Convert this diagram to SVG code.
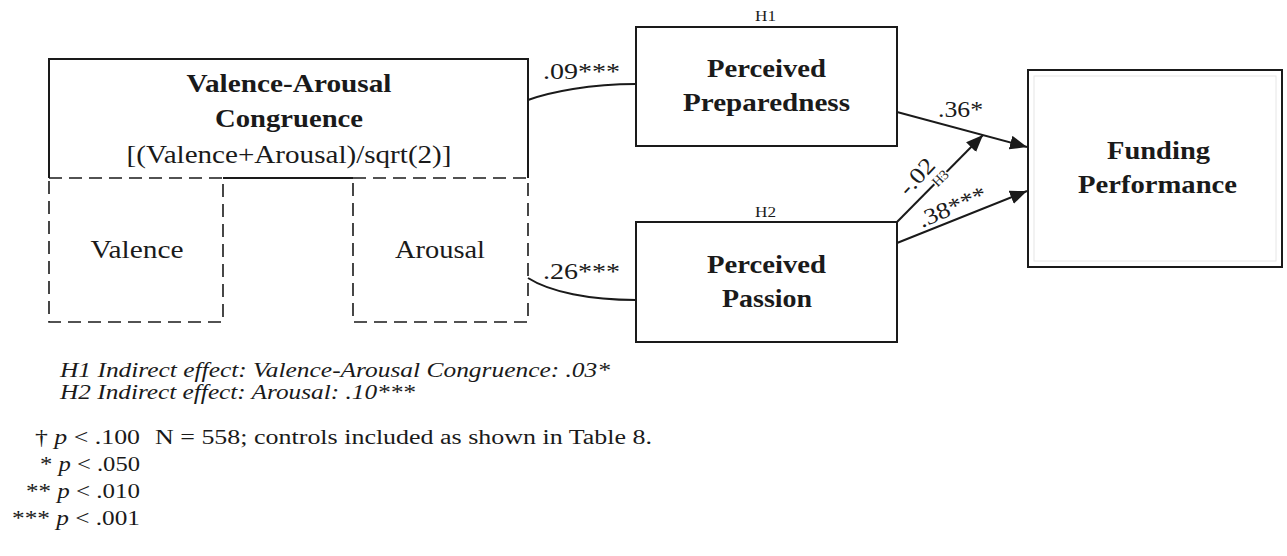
<svg xmlns="http://www.w3.org/2000/svg" width="1287" height="556" viewBox="0 0 1287 556">
<defs>
<style>
.bx{fill:none;stroke:#1a1a1a;stroke-width:2}
.ds{fill:none;stroke:#1a1a1a;stroke-width:1.6;stroke-dasharray:13 7}
.ln{fill:none;stroke:#1a1a1a;stroke-width:2}
text{font-family:"Liberation Serif","Times New Roman",serif;fill:#1a1a1a}
.b{font-size:26px;font-weight:bold}
.r{font-size:25px}
.c{font-size:23px}
.h{font-size:14px}
.it{font-size:21px;font-style:italic}
.n{font-size:20px}
.halo{paint-order:stroke;stroke:#fff;stroke-width:3px}
</style>
<marker id="ah" markerUnits="userSpaceOnUse" markerWidth="18" markerHeight="14" refX="17" refY="7" orient="auto">
<path d="M0,0 L17,7 L0,14 Z" fill="#1a1a1a"/>
</marker>
</defs>
<rect width="1287" height="556" fill="#fff"/>

<g id="congruence">
<path class="bx" d="M49,178 V59 H528 V178"/>
<line class="bx" x1="223" y1="178" x2="353" y2="178"/>
<text class="b" x="186.5" y="92" textLength="205" lengthAdjust="spacingAndGlyphs">Valence-Arousal</text>
<text class="b" x="215" y="127" textLength="148" lengthAdjust="spacingAndGlyphs">Congruence</text>
<text class="r" x="126.5" y="163" textLength="325" lengthAdjust="spacingAndGlyphs">[(Valence+Arousal)/sqrt(2)]</text>
</g>
<g id="valence">
<rect class="ds" x="49" y="178" width="174" height="144"/>
<text class="r" x="90.5" y="258" textLength="93" lengthAdjust="spacingAndGlyphs">Valence</text>
</g>
<g id="arousal">
<rect class="ds" x="353" y="178" width="175" height="144"/>
<text class="r" x="395" y="258" textLength="90" lengthAdjust="spacingAndGlyphs">Arousal</text>
</g>

<g id="preparedness">
<rect class="bx" x="636" y="27" width="261" height="119"/>
<text class="h" x="755" y="21" textLength="21" lengthAdjust="spacingAndGlyphs">H1</text>
<text class="b" x="707" y="77" textLength="119" lengthAdjust="spacingAndGlyphs">Perceived</text>
<text class="b" x="683" y="111" textLength="167" lengthAdjust="spacingAndGlyphs">Preparedness</text>
</g>
<g id="passion">
<rect class="bx" x="636" y="222" width="261" height="120"/>
<text class="h" x="755" y="217" textLength="21" lengthAdjust="spacingAndGlyphs">H2</text>
<text class="b" x="707" y="273" textLength="119" lengthAdjust="spacingAndGlyphs">Perceived</text>
<text class="b" x="722" y="307" textLength="90" lengthAdjust="spacingAndGlyphs">Passion</text>
</g>
<g id="funding">
<rect class="bx" x="1028" y="70" width="254" height="197"/>
<rect x="1034" y="76" width="242" height="185" fill="none" stroke="#e6e6e6" stroke-width="1"/>
<text class="b" x="1107" y="159" textLength="103" lengthAdjust="spacingAndGlyphs">Funding</text>
<text class="b" x="1078" y="193" textLength="159" lengthAdjust="spacingAndGlyphs">Performance</text>
</g>

<g id="connectors">
<path class="ln" d="M528,100 C550,92 590,84 636,84"/>
<path class="ln" d="M528,278 C550,292 590,300 636,300"/>
<line class="ln" x1="897" y1="112" x2="1027" y2="147" marker-end="url(#ah)"/>
<line class="ln" x1="897" y1="222" x2="983" y2="135" marker-end="url(#ah)"/>
<line class="ln" x1="897" y1="243" x2="1027" y2="191" marker-end="url(#ah)"/>
<text class="c" x="543" y="79" textLength="77" lengthAdjust="spacingAndGlyphs">.09***</text>
<text class="c" x="543" y="279" textLength="77" lengthAdjust="spacingAndGlyphs">.26***</text>
<text class="c" x="938" y="117" textLength="45" lengthAdjust="spacingAndGlyphs">.36*</text>
<text class="c" transform="translate(908,197) rotate(-47)" x="0" y="0" textLength="42" lengthAdjust="spacingAndGlyphs">-.02</text>
<text class="h halo" transform="translate(940,178) rotate(-45)" x="0" y="5" text-anchor="middle">H3</text>
<text class="c" transform="translate(922,228) rotate(-23)" x="0" y="0" textLength="72" lengthAdjust="spacingAndGlyphs">.38***</text>
</g>

<g id="notes">
<text class="it" x="60" y="377" textLength="550" lengthAdjust="spacingAndGlyphs">H1 Indirect effect: Valence-Arousal Congruence: .03*</text>
<text class="it" x="60" y="399" textLength="355" lengthAdjust="spacingAndGlyphs">H2 Indirect effect: Arousal: .10***</text>
<text class="n" x="35" y="444" textLength="105" lengthAdjust="spacingAndGlyphs">† <tspan font-style="italic">p</tspan> &lt; .100</text>
<text class="n" x="155" y="444" textLength="497" lengthAdjust="spacingAndGlyphs">N = 558; controls included as shown in Table 8.</text>
<text class="n" x="40" y="471" textLength="100" lengthAdjust="spacingAndGlyphs">* <tspan font-style="italic">p</tspan> &lt; .050</text>
<text class="n" x="26" y="498" textLength="114" lengthAdjust="spacingAndGlyphs">** <tspan font-style="italic">p</tspan> &lt; .010</text>
<text class="n" x="12" y="525" textLength="128" lengthAdjust="spacingAndGlyphs">*** <tspan font-style="italic">p</tspan> &lt; .001</text>
</g>
</svg>
